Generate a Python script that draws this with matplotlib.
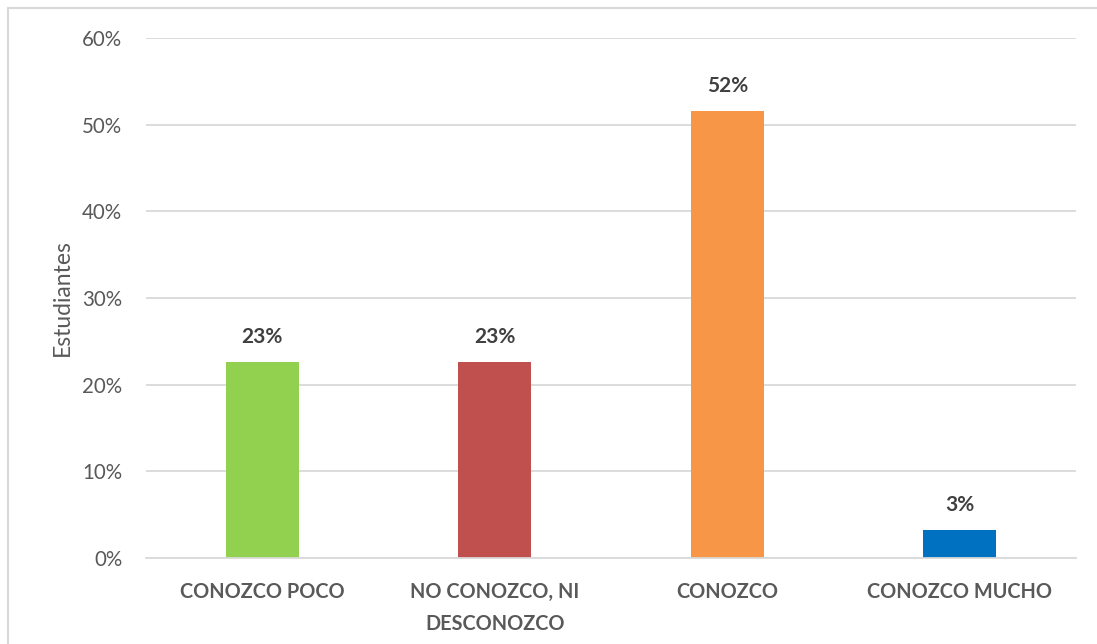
import matplotlib.pyplot as plt
from matplotlib.patches import Rectangle
from matplotlib.ticker import PercentFormatter

categories = ["CONOZCO POCO", "NO CONOZCO, NI\nDESCONOZCO", "CONOZCO", "CONOZCO MUCHO"]
shares = [22.6, 22.6, 51.6, 3.2]
labels = ["23%", "23%", "52%", "3%"]
colors = ["#92d050", "#c0504d", "#f79646", "#0070c0"]

plt.rcParams["font.family"] = ["Lato", "DejaVu Sans"]

W, H = 1097, 644
fig = plt.figure(figsize=(W / 100, H / 100), dpi=100)

# chart area frame, open at right and bottom
fig.patches.append(Rectangle((8 / W, -0.1), 1.2, 1 - 8 / H + 0.1, transform=fig.transFigure,
                             fill=False, edgecolor="#d9d9d9", linewidth=1.5))

ax = fig.add_axes([146 / W, 1 - 558 / H, (1076 - 146) / W, (558 - 38) / H])
x = range(len(categories))
bars = ax.bar(x, shares, width=0.314, color=colors)

for bar, lab in zip(bars, labels):
    ax.annotate(lab, (bar.get_x() + bar.get_width() / 2, bar.get_height()),
                xytext=(0, 11), textcoords="offset points", ha="center", va="bottom",
                fontsize=15, fontweight="bold", color="#404040")

ax.set_xlim(-0.5, 3.5)
ax.set_ylim(0, 60)
ax.set_yticks(range(0, 61, 10))
ax.yaxis.set_major_formatter(PercentFormatter(decimals=0))
ax.grid(axis="y", color="#d9d9d9", linewidth=1.3)
ax.set_axisbelow(True)
for s in ["top", "right", "left"]:
    ax.spines[s].set_visible(False)
ax.spines["bottom"].set_color("#d9d9d9")
ax.spines["bottom"].set_linewidth(1.3)

ax.set_xticks(list(x))
ax.set_xticklabels(categories, fontsize=14.3, fontweight="bold", color="#595959",
                   linespacing=1.75)
ax.tick_params(axis="x", length=0, pad=17)
ax.tick_params(axis="y", length=0, pad=17, labelsize=14.8, labelcolor="#595959")
ax.set_ylabel("Estudiantes", fontsize=16.5, color="#595959", labelpad=7)

fig.savefig("out.png", dpi=100)
